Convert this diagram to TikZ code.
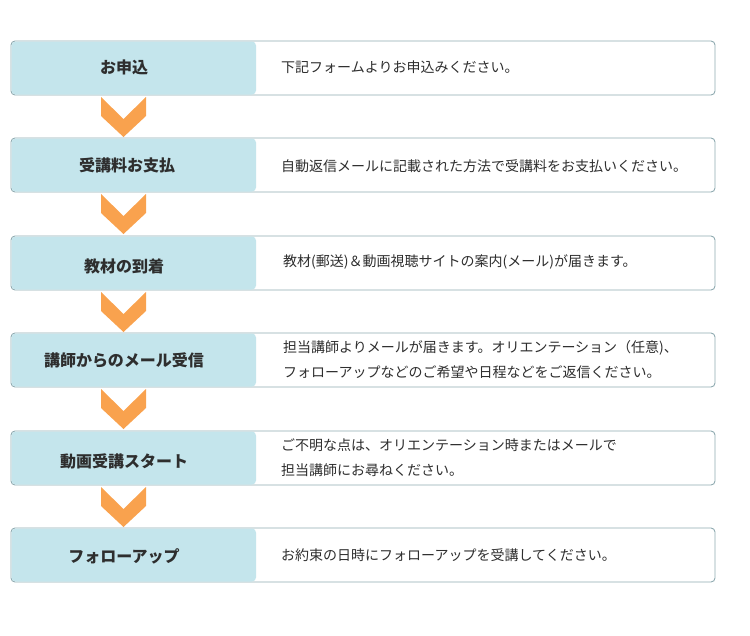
\documentclass[tikz,border=0pt]{standalone}
\usepackage{fontspec}
\newfontfamily\jpfont{Noto Sans CJK JP}
\usetikzlibrary{positioning, calc}
\definecolor{stepBlue}{HTML}{C4E5EC}
\definecolor{stepLine}{HTML}{8FAAB0}
\definecolor{arrowOrange}{HTML}{F9A24E}
\definecolor{textGray}{HTML}{2E2E2E}
\tikzset{
    rowBox/.style={draw=stepLine, line width=0.9pt, rounded corners=4pt, fill=white},
    stepCell/.style={fill=stepBlue, rounded corners=4pt},
    stepLabel/.style={font=\jpfont\bfseries\fontsize{16}{18}\selectfont, text=textGray},
    noteText/.style={font=\jpfont\fontsize{14}{25}\selectfont, text=textGray, align=left, anchor=west, inner sep=0pt},
    chevronFill/.style={fill=arrowOrange}
}
\begin{document}
\begin{tikzpicture}[x=1pt, y=-1pt]

        \useasboundingbox (0,0) rectangle (750,635);

        % Row frames and blue step cells
        \foreach \i/\y in {1/41,2/138,3/236,4/333,5/431,6/528} {
            \draw[rowBox] (11,\y) rectangle (715,\y+54);
            \fill[stepCell] (11.5,\y+0.5) rectangle (256,\y+53.5);
            \coordinate (c\i) at (123.5,\y+56);
        }

        % Step labels
        \node[stepLabel] (s1) at (124,67)  {お申込};
        \node[stepLabel] (s2) at (127,165) {受講料お支払};
        \node[stepLabel] (s3) at (124,266) {教材の到着};
        \node[stepLabel] (s4) at (124,360) {講師からのメール受信};
        \node[stepLabel] (s5) at (124,461) {動画受講スタート};
        \node[stepLabel] (s6) at (124,556) {フォローアップ};

        % Notes
        \node[noteText] (n1) at (281,67)    {下記フォームよりお申込みください。};
        \node[noteText] (n2) at (281,166)   {自動返信メールに記載された方法で受講料をお支払いください。};
        \node[noteText] (n3) at (283,262)   {教材(郵送)＆動画視聴サイトの案内(メール)が届きます。};
        \node[noteText] (n4) at (283,359.5) {担当講師よりメールが届きます。オリエンテーション（任意)、\\フォローアップなどのご希望や日程などをご返信ください。};
        \node[noteText] (n5) at (281,458)   {ご不明な点は、オリエンテーション時またはメールで\\担当講師にお尋ねください。};
        \node[noteText] (n6) at (281,555)   {お約束の日時にフォローアップを受講してください。};

        % Chevrons between the steps
        \foreach \i in {1,...,5} {
            \fill[chevronFill] (c\i) ++(-22.5,0) -- ++(22.5,22) -- ++(22.5,-22) -- ++(0,19) -- ++(-22.5,21) -- ++(-22.5,-21) -- cycle;
        }

\end{tikzpicture}
\end{document}
